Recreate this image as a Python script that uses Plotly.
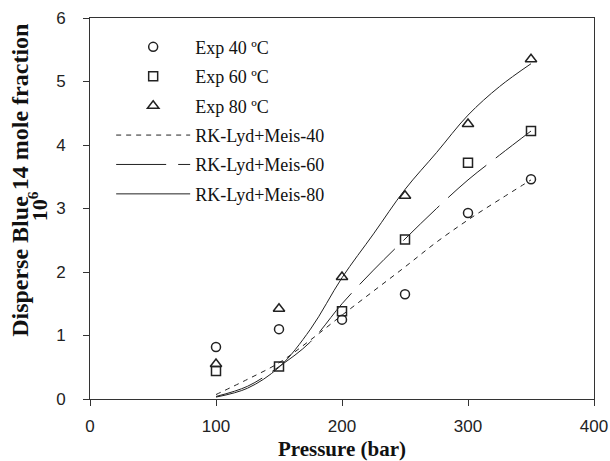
import plotly.graph_objects as go

# Experimental data
pressure_exp = [100, 150, 200, 250, 300, 350]
exp_40 = [0.82, 1.10, 1.25, 1.65, 2.93, 3.46]
exp_60 = [0.44, 0.51, 1.38, 2.51, 3.72, 4.22]
exp_80 = [0.55, 1.42, 1.92, 3.20, 4.33, 5.35]

# Model curves
pressure_model = [100, 125, 150, 175, 200, 225, 250, 275, 300, 325, 350]
rk_40 = [0.07, 0.31, 0.57, 0.93, 1.32, 1.70, 2.08, 2.47, 2.82, 3.14, 3.45]
rk_60 = [0.04, 0.20, 0.51, 0.90, 1.50, 2.03, 2.52, 3.00, 3.45, 3.84, 4.22]
rk_80 = [0.03, 0.17, 0.50, 1.10, 1.91, 2.60, 3.30, 3.88, 4.47, 4.92, 5.28]

x_ticks = [0, 100, 200, 300, 400]
y_ticks = [0, 1, 2, 3, 4, 5, 6]

INK = "#222222"
SERIF = "Liberation Serif, Times New Roman, serif"
mk_line = dict(color=INK, width=1.5)

fig = go.Figure()
fig.add_trace(go.Scatter(x=pressure_exp, y=exp_40, mode="markers", name="Exp 40 ºC",
                         legendgroup="a",
                         marker=dict(symbol="circle-open", size=9, color=INK, line=mk_line)))
fig.add_trace(go.Scatter(x=pressure_exp, y=exp_60, mode="markers", name="Exp 60 ºC",
                         legendgroup="b",
                         marker=dict(symbol="square-open", size=9, color=INK, line=mk_line)))
fig.add_trace(go.Scatter(x=pressure_exp, y=exp_80, mode="markers", name="Exp 80 ºC",
                         legendgroup="c",
                         marker=dict(symbol="triangle-up-open", size=10, color=INK, line=mk_line)))
fig.add_trace(go.Scatter(x=pressure_model, y=rk_40, mode="lines", name="RK-Lyd+Meis-40",
                         legendgroup="d", line_shape="spline",
                         line=dict(color=INK, width=1, dash="5px,5px")))
fig.add_trace(go.Scatter(x=pressure_model, y=rk_60, mode="lines", name="RK-Lyd+Meis-60",
                         legendgroup="e", line_shape="spline",
                         line=dict(color=INK, width=1, dash="50px,12px")))
fig.add_trace(go.Scatter(x=pressure_model, y=rk_80, mode="lines", name="RK-Lyd+Meis-80",
                         legendgroup="f", line_shape="spline",
                         line=dict(color=INK, width=1)))

axis_common = dict(showline=True, linecolor="#333333", linewidth=1, mirror=True,
                   ticks="outside", ticklen=6, tickcolor="#333333", showgrid=False,
                   zeroline=False, automargin=False,
                   tickfont=dict(family="Liberation Sans, Arial, sans-serif", size=17, color="#222222"))

fig.update_xaxes(range=[0, 400], tickvals=x_ticks, ticklabelstandoff=6,
                 title=dict(text="<b>Pressure (bar)</b>", standoff=14,
                            font=dict(family=SERIF, size=21, color="#111111")),
                 **axis_common)
fig.update_yaxes(range=[0, 6], tickvals=y_ticks, ticklabelstandoff=14, **axis_common)

fig.add_annotation(text="<b>Disperse Blue 14 mole fraction</b>", textangle=-90,
                   xref="paper", yref="paper", x=-0.139, y=0.575, showarrow=False,
                   xanchor="center", yanchor="middle",
                   font=dict(family=SERIF, size=24, color="#111111"))
fig.add_annotation(text="<b>10<sup>6</sup></b>", textangle=-90,
                   xref="paper", yref="paper", x=-0.104, y=0.505, showarrow=False,
                   xanchor="center", yanchor="middle",
                   font=dict(family=SERIF, size=22, color="#111111"))

fig.update_layout(
    width=610, height=461,
    margin=dict(l=90, r=16, t=18, b=62),
    paper_bgcolor="white", plot_bgcolor="white",
    showlegend=True,
    legend=dict(x=0.042, y=0.972, xanchor="left", yanchor="top",
                bgcolor="rgba(0,0,0,0)", itemwidth=74, tracegroupgap=3,
                font=dict(family=SERIF, size=18, color="#111111")),
)

fig.write_html("out.html",
               config={"displayModeBar": False},
               post_script="document.body.style.margin='0';document.body.style.overflow='hidden';")
